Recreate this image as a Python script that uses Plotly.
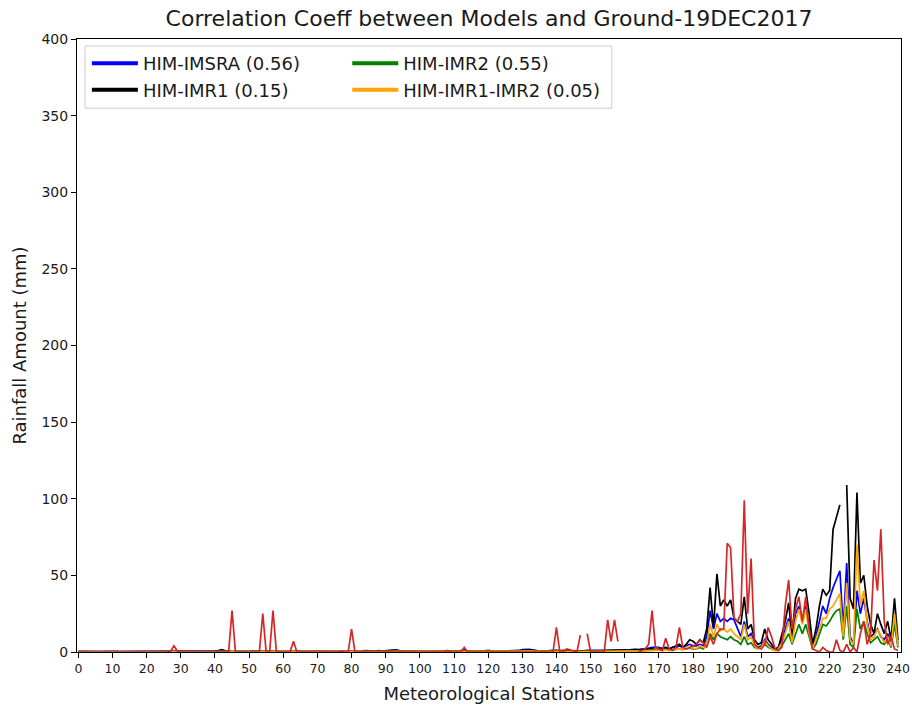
import plotly.graph_objects as go

stations = list(range(0, 241))
x_tick_vals = [0, 10, 20, 30, 40, 50, 60, 70, 80, 90, 100, 110, 120, 130, 140, 150, 160, 170, 180, 190, 200, 210, 220, 230, 240]
y_tick_vals = [0, 50, 100, 150, 200, 250, 300, 350, 400]

ground = [
    0, 0, 0, 0, 0, 0, 0, 0, 0, 0,
    0, 0, 0, 0, 0, 0, 0, 0, 0, 0,
    0, 0, 0, 0, 0, 0, 0, 0.5, 4, 0.5,
    0, 0, 0, 0, 0, 0, 0, 0, 0, 0,
    0, 0, 0, 0, 0, 27, 0, 0, 0, 0,
    0, 0, 0, 0, 25, 0, 0, 27, 0, 0,
    0, 0, 0, 7, 0, 0, 0, 0, 0, 0,
    0, 0, 0, 0, 0, 0, 0, 0.5, 0, 0,
    15, 0, 0, 0, 0, 0, 0, 0, 0, 0,
    0, 0, 0, 0, 0, 0, 0, 0, 0, 0,
    0, 0, 0, 0, 0, 0, 0, 0, 1, 0,
    0, 0, 0, 3, 0, 0, 0, 0, 0, 0,
    0, 0, 0, 0, 0, 0, 0, 0, 0, 0,
    0, 0, 0, 0, 0, 0, 0, 0, 0, 0,
    16, 0, 0, 2, 1.5, 0.5, 0, 11, None, 12,
    0, 0, 0, 0, 0, 21, 7, 21, 7, None,
    None, None, None, None, 0, 1, 2, 5, 27, 3,
    2, 1, 9, 2, 1, 3, 16, 3, 2, 3,
    4, 5, 8, 6, 3, 10, 5, 12, 15, 15,
    71, 68, 22, 20, 25, 99, 25, 61, 5, 3,
    2, 5, 16, 10, 2, 1, 3, 30, 47, 15,
    28, 36, 20, 36, 15, 2, 1, 0, 3, 1,
    0, 0, 8, 1, 0, 5, 0, 3, 0, 12,
    20, 5, 12, 60, 40, 80, 20, 5, 10, 2,
    1,
]

him_imsra = [
    0.4, 0.3, 0.3, 0.5, 0.4, 0.3, 0.3, 0.4, 0.3, 0.3,
    0.3, 0.4, 0.3, 0.3, 0.4, 0.3, 0.3, 0.3, 0.4, 0.3,
    0.3, 0.3, 0.4, 0.3, 0.3, 0.3, 0.4, 0.4, 0.3, 0.3,
    0.3, 0.4, 0.3, 0.3, 0.3, 0.4, 0.3, 0.3, 0.4, 0.5,
    0.7, 1.0, 1.6, 0.8, 0.4, 0.3, 0.4, 0.3, 0.3, 0.4,
    0.4, 0.5, 0.4, 0.3, 0.4, 0.3, 0.4, 0.4, 0.3, 0.4,
    0.5, 0.4, 0.3, 0.4, 0.4, 0.5, 0.4, 0.3, 0.4, 0.4,
    0.6, 0.5, 0.4, 0.4, 0.5, 0.4, 0.4, 0.4, 0.5, 0.4,
    0.4, 0.5, 0.4, 0.6, 0.9, 0.8, 0.5, 0.6, 0.9, 0.6,
    0.8, 1.0, 1.3, 1.4, 1.0, 0.6, 0.5, 0.6, 0.5, 0.4,
    0.4, 0.5, 0.4, 0.5, 0.4, 0.4, 0.5, 0.6, 0.5, 0.4,
    0.5, 0.6, 0.9, 1.3, 0.8, 0.5, 0.4, 0.6, 0.5, 0.8,
    1.0, 0.6, 0.5, 0.4, 0.5, 0.4, 0.5, 0.6, 0.8, 1.0,
    1.5, 1.6, 1.8, 1.4, 0.9, 0.6, 0.8, 0.6, 0.9, 1.1,
    1.0, 0.8, 1.1, 0.9, 1.0, 0.8, 0.6, 0.9, 0.8, 1.0,
    0.9, 0.8, 1.0, 1.1, 0.9, 1.0, 1.2, 1.1, 1.3, 1.2,
    1.4, 1.2, 1.5, 1.8, 1.6, 1.9, 1.8, 2.5, 3, 3,
    3, 2, 3, 2, 3, 3, 4, 3, 4, 5,
    4, 4, 5, 4, 10, 27, 15, 25, 20, 22,
    20, 22, 21, 15, 10, 20, 10, 12, 5, 3,
    4, 8, 5, 3, 2, 2, 8, 15, 22, 8,
    25, 30, 20, 30, 15, 3, 10, 20, 30, 25,
    35, 42, 48, 53, 15, 58, 10, 5, 40, 25,
    35, 20, 10, 12, 15, 10, 8, 12, 5, 25,
    5,
]

him_imr1 = [
    0.3, 0.2, 0.3, 0.4, 0.3, 0.2, 0.2, 0.3, 0.2, 0.2,
    0.2, 0.3, 0.2, 0.2, 0.3, 0.2, 0.2, 0.2, 0.3, 0.2,
    0.2, 0.2, 0.3, 0.2, 0.2, 0.2, 0.3, 0.3, 0.2, 0.2,
    0.2, 0.3, 0.2, 0.2, 0.2, 0.3, 0.2, 0.2, 0.3, 0.4,
    0.5, 0.8, 1.2, 0.6, 0.3, 0.2, 0.3, 0.2, 0.2, 0.3,
    0.3, 0.4, 0.3, 0.2, 0.3, 0.2, 0.3, 0.3, 0.2, 0.3,
    0.4, 0.3, 0.2, 0.3, 0.3, 0.4, 0.3, 0.2, 0.3, 0.3,
    0.5, 0.4, 0.3, 0.3, 0.4, 0.3, 0.3, 0.3, 0.4, 0.3,
    0.3, 0.4, 0.3, 0.5, 0.7, 0.6, 0.4, 0.5, 0.7, 0.5,
    0.6, 0.8, 1.0, 1.1, 0.8, 0.5, 0.4, 0.5, 0.4, 0.3,
    0.3, 0.4, 0.3, 0.4, 0.3, 0.3, 0.4, 0.5, 0.4, 0.3,
    0.4, 0.5, 0.7, 1.0, 0.6, 0.4, 0.3, 0.5, 0.4, 0.6,
    0.8, 0.5, 0.4, 0.3, 0.4, 0.3, 0.4, 0.5, 0.6, 0.8,
    1.2, 1.3, 1.4, 1.1, 0.7, 0.5, 0.6, 0.5, 0.7, 0.9,
    0.8, 0.6, 0.9, 0.7, 0.8, 0.6, 0.5, 0.7, 0.6, 0.8,
    0.7, 0.6, 0.8, 0.9, 0.7, 0.8, 1.0, 0.9, 1.1, 1.0,
    1.2, 1.0, 1.3, 1.5, 1.4, 1.6, 1.5, 2.0, 2.0, 1.5,
    2, 2, 3, 2, 3, 4, 5, 3, 5, 8,
    7, 5, 8, 6, 15, 42, 16, 51, 30, 34,
    30, 34, 22, 20, 18, 36, 15, 18, 8, 5,
    6, 15, 8, 5, 2, 3, 12, 20, 32, 10,
    35, 41, 40, 41, 25, 5, 15, 30, 41, 37,
    40, 80, 88, 96, None, 109, 35, 28, 104, 45,
    50, 30, 18, 12, 25, 18, 12, 20, 8, 35,
    8,
]

him_imr2 = [
    0.2, 0.1, 0.2, 0.2, 0.2, 0.1, 0.1, 0.2, 0.1, 0.1,
    0.1, 0.2, 0.1, 0.1, 0.2, 0.1, 0.1, 0.1, 0.2, 0.1,
    0.1, 0.1, 0.2, 0.1, 0.1, 0.1, 0.2, 0.2, 0.1, 0.1,
    0.1, 0.2, 0.1, 0.1, 0.1, 0.2, 0.1, 0.1, 0.2, 0.2,
    0.3, 0.4, 0.6, 0.3, 0.2, 0.1, 0.2, 0.1, 0.1, 0.2,
    0.2, 0.2, 0.2, 0.1, 0.2, 0.1, 0.2, 0.2, 0.1, 0.2,
    0.2, 0.2, 0.1, 0.2, 0.2, 0.2, 0.2, 0.1, 0.2, 0.2,
    0.3, 0.2, 0.2, 0.2, 0.2, 0.2, 0.2, 0.2, 0.2, 0.2,
    0.2, 0.2, 0.2, 0.3, 0.4, 0.3, 0.2, 0.3, 0.4, 0.3,
    0.3, 0.4, 0.5, 0.6, 0.4, 0.3, 0.2, 0.3, 0.2, 0.2,
    0.2, 0.2, 0.2, 0.2, 0.2, 0.2, 0.2, 0.3, 0.2, 0.2,
    0.2, 0.3, 0.4, 0.5, 0.3, 0.2, 0.2, 0.3, 0.2, 0.3,
    0.4, 0.3, 0.2, 0.2, 0.2, 0.2, 0.2, 0.3, 0.3, 0.4,
    0.6, 0.7, 0.8, 0.6, 0.4, 0.3, 0.3, 0.3, 0.4, 0.5,
    0.4, 0.3, 0.5, 0.4, 0.4, 0.3, 0.3, 0.4, 0.3, 0.4,
    0.4, 0.3, 0.4, 0.5, 0.4, 0.4, 0.5, 0.5, 0.6, 0.5,
    0.6, 0.5, 0.7, 0.8, 0.7, 0.8, 0.8, 1.0, 1.2, 1.2,
    1.3, 1.0, 1.5, 1.0, 1.5, 1.5, 2, 1.5, 2, 2.5,
    2, 2, 3, 2, 6, 12, 8, 12, 10, 9,
    8, 10, 8, 7, 5, 10, 5, 6, 3, 2,
    3, 5, 3, 2, 1, 1, 4, 8, 12, 5,
    12, 18, 12, 18, 10, 2, 5, 12, 18, 17,
    20, 24, 27, 28, 8, 30, 5, 3, 28, 15,
    20, 12, 6, 8, 10, 6, 5, 8, 3, 18,
    3,
]

him_imr1_imr2 = [
    0.2, 0.1, 0.2, 0.2, 0.2, 0.1, 0.1, 0.2, 0.1, 0.1,
    0.1, 0.2, 0.1, 0.1, 0.2, 0.1, 0.1, 0.1, 0.2, 0.1,
    0.1, 0.1, 0.2, 0.1, 0.1, 0.1, 0.2, 0.2, 0.1, 0.1,
    0.1, 0.2, 0.1, 0.1, 0.1, 0.2, 0.1, 0.1, 0.2, 0.2,
    0.3, 0.4, 0.5, 0.3, 0.2, 0.1, 0.2, 0.1, 0.1, 0.2,
    0.2, 0.2, 0.2, 0.1, 0.2, 0.1, 0.2, 0.2, 0.1, 0.2,
    0.2, 0.2, 0.1, 0.2, 0.2, 0.2, 0.2, 0.1, 0.2, 0.2,
    0.3, 0.2, 0.2, 0.2, 0.2, 0.2, 0.2, 0.2, 0.2, 0.2,
    0.2, 0.2, 0.2, 0.3, 0.4, 0.3, 0.2, 0.3, 0.4, 0.3,
    0.3, 0.4, 0.5, 0.5, 0.4, 0.3, 0.2, 0.3, 0.2, 0.2,
    0.2, 0.2, 0.2, 0.2, 0.2, 0.2, 0.2, 0.3, 0.2, 0.2,
    0.2, 0.3, 0.4, 0.5, 0.3, 0.2, 0.2, 0.3, 0.2, 0.3,
    0.4, 0.3, 0.2, 0.2, 0.2, 0.2, 0.2, 0.3, 0.3, 0.4,
    0.6, 0.7, 0.7, 0.6, 0.4, 0.3, 0.3, 0.3, 0.4, 0.5,
    0.4, 0.3, 0.5, 0.4, 0.4, 0.3, 0.3, 0.4, 0.3, 0.4,
    0.4, 0.3, 0.4, 0.5, 0.4, 0.4, 0.5, 0.5, 0.6, 0.5,
    0.5, 0.4, 0.6, 0.7, 0.6, 0.7, 0.7, 0.9, 1.0, 1.0,
    1.2, 1.0, 1.4, 1.0, 1.4, 1.5, 2, 1.5, 2, 3,
    2.5, 2, 4, 3, 5, 18, 10, 18, 14, 15,
    13, 15, 12, 10, 8, 18, 8, 10, 4, 2,
    3, 7, 4, 2, 1, 2, 6, 12, 20, 6,
    20, 28, 18, 28, 12, 2, 8, 15, 22, 22,
    28, 30, 34, 38, 10, 45, 8, 5, 70, 30,
    40, 18, 8, 10, 15, 10, 6, 10, 4, 25,
    4,
]

model_names = ["HIM-IMSRA (0.56)", "HIM-IMR1 (0.15)", "HIM-IMR2 (0.55)", "HIM-IMR1-IMR2 (0.05)"]
model_values = [him_imsra, him_imr1, him_imr2, him_imr1_imr2]
model_colors = ["#0000ff", "#000000", "#008000", "#ffa500"]
model_legends = ["legend", "legend", "legend2", "legend2"]
ground_color = "#d62728"

FONT = "DejaVu Sans"
TXT = "#1a1a1a"

fig = go.Figure()

for name, vals, col in zip(model_names, model_values, model_colors):
    fig.add_trace(go.Scatter(
        x=stations, y=vals, mode="lines", name=name,
        line=dict(color=col, width=1.7), showlegend=False,
        connectgaps=False, hoverinfo="skip",
    ))

fig.add_trace(go.Scatter(
    x=stations, y=ground, mode="lines", name="Ground",
    line=dict(color=ground_color, width=1.7), showlegend=False,
    connectgaps=False, hoverinfo="skip",
))

# legend-only proxies with thick lines
for name, col, lg in zip(model_names, model_colors, model_legends):
    fig.add_trace(go.Scatter(
        x=[None], y=[None], mode="lines", name=name,
        line=dict(color=col, width=4), showlegend=True, legend=lg,
    ))

# legend frame
fig.add_shape(
    type="rect", xref="paper", yref="paper",
    x0=0.0097, x1=0.649, y0=0.887, y1=0.9886,
    line=dict(color="#cccccc", width=1), fillcolor="rgba(255,255,255,0.8)",
    layer="above",
)

leg_common = dict(
    font=dict(family=FONT, size=18, color=TXT),
    bgcolor="rgba(0,0,0,0)", borderwidth=0,
    orientation="v", yanchor="top", xanchor="left",
    itemwidth=46, tracegroupgap=0,
)

fig.update_layout(
    width=912, height=705,
    margin=dict(l=77, r=11, t=39, b=53, autoexpand=False),
    paper_bgcolor="white", plot_bgcolor="white",
    font=dict(family=FONT, color=TXT),
    title=dict(
        text="Correlation Coeff between Models and Ground-19DEC2017",
        x=0.5, xref="paper", xanchor="center",
        y=1 - 18 / 705, yref="container", yanchor="middle",
        font=dict(family=FONT, size=22, color=TXT),
    ),
    legend=dict(x=0.012, y=0.99, **leg_common),
    legend2=dict(x=0.328, y=0.99, **leg_common),
    showlegend=True,
)

fig.update_xaxes(
    range=[-0.4, 240.9], automargin=False,
    tickmode="array", tickvals=x_tick_vals,
    ticks="outside", ticklen=5, tickwidth=1, tickcolor="black",
    tickfont=dict(family=FONT, size=12.5, color=TXT),
    showline=True, linecolor="black", linewidth=1, mirror=True,
    showgrid=False, zeroline=False,
    title=dict(text="Meteorological Stations", font=dict(family=FONT, size=18, color=TXT), standoff=12),
)
fig.update_yaxes(
    range=[0, 400], automargin=False,
    tickmode="array", tickvals=y_tick_vals,
    ticks="outside", ticklen=5, tickwidth=1, tickcolor="black",
    tickfont=dict(family=FONT, size=14, color=TXT),
    showline=True, linecolor="black", linewidth=1, mirror=True,
    showgrid=False, zeroline=False,
    title=dict(text="Rainfall Amount (mm)", font=dict(family=FONT, size=18, color=TXT), standoff=10),
)

fig.write_html("out.html")
